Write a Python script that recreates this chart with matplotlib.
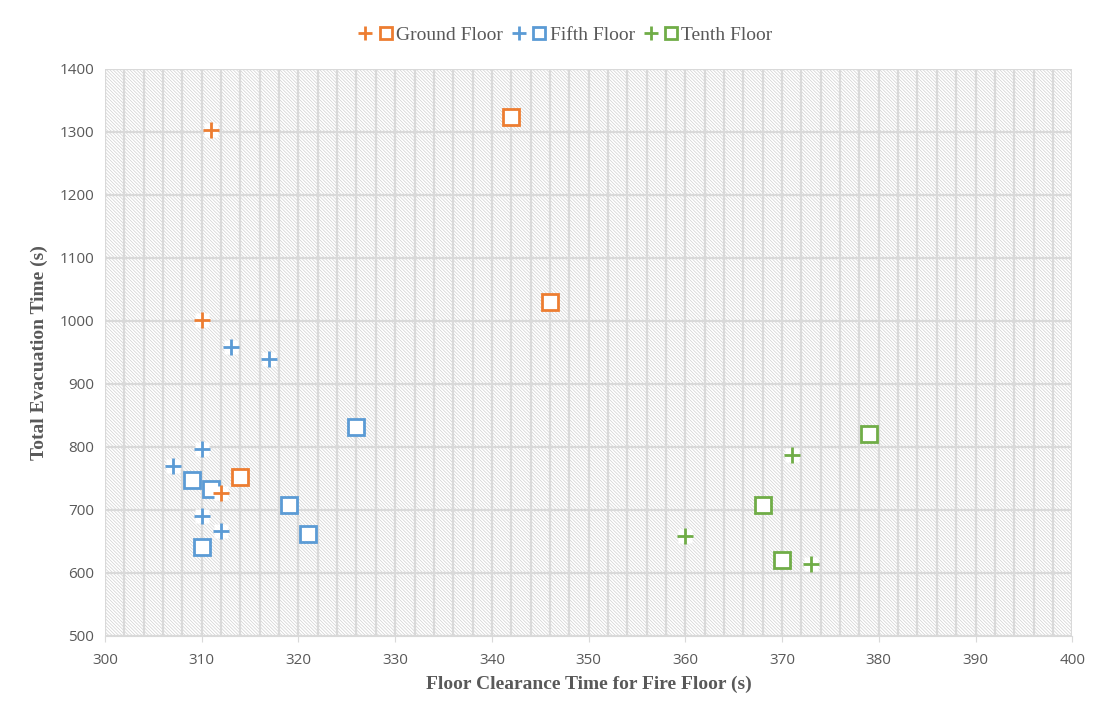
import matplotlib
matplotlib.use("Agg")
import matplotlib.pyplot as plt
from matplotlib.patches import Rectangle
from matplotlib.legend_handler import HandlerTuple
from matplotlib.lines import Line2D

# floor clearance time (s) vs total evacuation time (s)
ground_plus_x = [311, 310, 312]
ground_plus_y = [1303, 1001, 727]
ground_sq_x = [342, 346, 314]
ground_sq_y = [1323, 1030, 752]

fifth_plus_x = [313, 317, 310, 307, 310, 312]
fifth_plus_y = [958, 939, 797, 770, 690, 667]
fifth_sq_x = [309, 311, 326, 319, 321, 310]
fifth_sq_y = [747, 733, 832, 708, 662, 642]

tenth_plus_x = [371, 360, 373]
tenth_plus_y = [788, 658, 614]
tenth_sq_x = [379, 368, 370]
tenth_sq_y = [821, 708, 620]

names = ["Ground Floor", "Fifth Floor", "Tenth Floor"]
colors = ["#ed7d31", "#5b9bd5", "#70ad47"]

plt.rcParams["hatch.linewidth"] = 0.5
plt.rcParams["hatch.color"] = "#d0d0d0"

fig = plt.figure(figsize=(11.02, 7.11), dpi=100)
ax = fig.add_axes([0.0953, 0.1055, 0.8777, 0.7975])

# hatched plot background
ax.add_patch(Rectangle((0, 0), 1, 1, transform=ax.transAxes, facecolor="white",
                       edgecolor="#d0d0d0", hatch="\\" * 10, linewidth=0, zorder=0))

ax.set_xlim(300, 400)
ax.set_ylim(500, 1400)
ax.set_xticks(range(300, 401, 10))
ax.set_xticks(range(300, 401, 2), minor=True)
ax.set_yticks(range(500, 1401, 100))
ax.grid(True, which="both", axis="x", color="#d9d9d9", linewidth=1.6, zorder=1)
ax.grid(True, which="major", axis="y", color="#d9d9d9", linewidth=1.6, zorder=1)
ax.set_axisbelow(True)

for s in ["top", "right", "left"]:
    ax.spines[s].set_visible(False)
ax.spines["bottom"].set_color("#d9d9d9")
ax.tick_params(axis="both", which="both", length=0, labelsize=11, colors="#595959", pad=8)
ax.tick_params(axis="x", which="major", length=4, color="#d9d9d9")
for lab in ax.get_xticklabels() + ax.get_yticklabels():
    lab.set_fontfamily("Open Sans")

series = [
    (ground_plus_x, ground_plus_y, ground_sq_x, ground_sq_y),
    (fifth_plus_x, fifth_plus_y, fifth_sq_x, fifth_sq_y),
    (tenth_plus_x, tenth_plus_y, tenth_sq_x, tenth_sq_y),
]

handles = []
for (px, py, sx, sy), c in zip(series, colors):
    ax.plot(sx, sy, ls="none", marker="s", ms=11, mfc="white", mec=c, mew=2, zorder=3)
    # white knock-out behind the plus markers
    ax.plot(px, py, ls="none", marker="s", ms=10, mfc="white", mec="none", zorder=4)
    ax.plot(px, py, ls="none", marker="+", ms=11, mew=2, color=c, zorder=5)
    h1 = Line2D([], [], ls="none", marker="+", ms=10, mew=2, color=c)
    h2 = Line2D([], [], ls="none", marker="s", ms=8, mfc="white", mec=c, mew=2)
    handles.append((h1, h2))

fig.legend(handles, names, handler_map={tuple: HandlerTuple(ndivide=None, pad=0.3)},
           loc="center", bbox_to_anchor=(0.513, 0.951), ncol=3, frameon=False,
           handlelength=1.8, handletextpad=0.15, columnspacing=0.45,
           prop={"family": "Liberation Serif", "size": 14}, labelcolor="#595959")

ax.set_xlabel("Floor Clearance Time for Fire Floor (s)", fontfamily="Liberation Serif",
              fontweight="bold", fontsize=14, color="#595959", labelpad=6)
ax.set_ylabel("Total Evacuation Time (s)", fontfamily="Liberation Serif",
              fontweight="bold", fontsize=14, color="#595959", labelpad=8)

fig.savefig("out.png", dpi=100)
